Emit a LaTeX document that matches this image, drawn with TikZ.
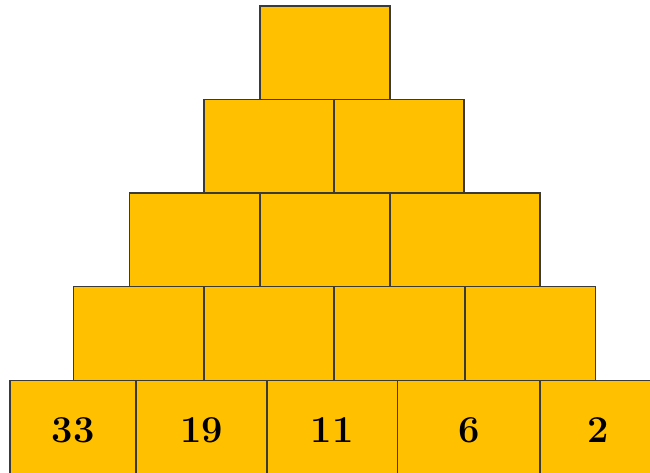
\documentclass[tikz,border=0pt]{standalone}
\definecolor{gold}{HTML}{FFC000}
\definecolor{edge}{HTML}{3A3A3A}
\begin{document}
\begin{tikzpicture}[x=1pt,y=-1pt,
  brick/.style={draw=edge,fill=gold,line width=1.1pt,inner sep=0pt,minimum height=94pt,
    font=\fontsize{38}{42}\selectfont\bfseries}]
\clip (0,0) rectangle (650,473);
\fill[white] (0,0) rectangle (650,473);
% row 1
\node[brick,minimum width=130pt] (r1a) at (325,53) {};
% row 2
\node[brick,minimum width=130pt] (r2a) at (269,146.5) {};
\node[brick,minimum width=130pt] (r2b) at (399,146.5) {};
% row 3
\node[brick,minimum width=130.5pt] (r3a) at (194.75,240) {};
\node[brick,minimum width=130pt] (r3b) at (325,240) {};
\node[brick,minimum width=150pt] (r3c) at (465,240) {};
% row 4
\node[brick,minimum width=130.5pt] (r4a) at (138.75,333.5) {};
\node[brick,minimum width=130pt] (r4b) at (269,333.5) {};
\node[brick,minimum width=131pt] (r4c) at (399.5,333.5) {};
\node[brick,minimum width=130.5pt] (r4d) at (530.25,333.5) {};
% row 5
\node[brick,minimum width=126pt,minimum height=99pt] (r5a) at (73,430) {33};
\node[brick,minimum width=131pt,minimum height=99pt] (r5b) at (201.5,430) {19};
\node[brick,minimum width=130.5pt,minimum height=99pt] (r5c) at (332.25,430) {11};
\node[brick,minimum width=142.5pt,minimum height=99pt] (r5d) at (468.75,430) {6};
\node[brick,minimum width=116pt,minimum height=99pt] (r5e) at (598,430) {2};
\end{tikzpicture}
\end{document}
